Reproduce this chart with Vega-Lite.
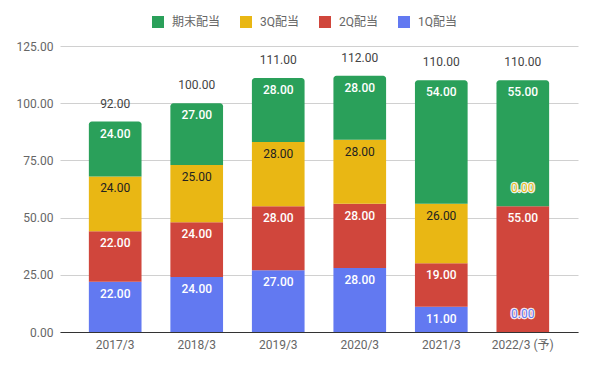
{
  "$schema": "https://vega.github.io/schema/vega-lite/v6.json",
  "width": 518,
  "height": 286,
  "autosize": {"type": "none"},
  "padding": {"left": 60, "top": 46, "right": 19, "bottom": 35},
  "background": "white",
  "config": {
    "font": "Roboto, 'Noto Sans CJK JP', sans-serif",
    "view": {"stroke": null}
  },
  "data": {
    "values": [
      {"year": "2017/3", "series": "1Q配当", "q": 1, "value": 22},
      {"year": "2017/3", "series": "2Q配当", "q": 2, "value": 22},
      {"year": "2017/3", "series": "3Q配当", "q": 3, "value": 24},
      {"year": "2017/3", "series": "期末配当", "q": 4, "value": 24},
      {"year": "2018/3", "series": "1Q配当", "q": 1, "value": 24},
      {"year": "2018/3", "series": "2Q配当", "q": 2, "value": 24},
      {"year": "2018/3", "series": "3Q配当", "q": 3, "value": 25},
      {"year": "2018/3", "series": "期末配当", "q": 4, "value": 27},
      {"year": "2019/3", "series": "1Q配当", "q": 1, "value": 27},
      {"year": "2019/3", "series": "2Q配当", "q": 2, "value": 28},
      {"year": "2019/3", "series": "3Q配当", "q": 3, "value": 28},
      {"year": "2019/3", "series": "期末配当", "q": 4, "value": 28},
      {"year": "2020/3", "series": "1Q配当", "q": 1, "value": 28},
      {"year": "2020/3", "series": "2Q配当", "q": 2, "value": 28},
      {"year": "2020/3", "series": "3Q配当", "q": 3, "value": 28},
      {"year": "2020/3", "series": "期末配当", "q": 4, "value": 28},
      {"year": "2021/3", "series": "1Q配当", "q": 1, "value": 11},
      {"year": "2021/3", "series": "2Q配当", "q": 2, "value": 19},
      {"year": "2021/3", "series": "3Q配当", "q": 3, "value": 26},
      {"year": "2021/3", "series": "期末配当", "q": 4, "value": 54},
      {"year": "2022/3 (予)", "series": "1Q配当", "q": 1, "value": 0},
      {"year": "2022/3 (予)", "series": "2Q配当", "q": 2, "value": 55},
      {"year": "2022/3 (予)", "series": "3Q配当", "q": 3, "value": 0},
      {"year": "2022/3 (予)", "series": "期末配当", "q": 4, "value": 55}
    ]
  },
  "transform": [
    {"stack": "value", "groupby": ["year"], "sort": [{"field": "q", "order": "ascending"}], "as": ["v0", "v1"]}
  ],
  "encoding": {
    "x": {
      "field": "year", "type": "nominal", "sort": null,
      "scale": {"paddingInner": 0.354, "paddingOuter": 0.354},
      "axis": {
        "title": null, "labelAngle": 0, "ticks": false, "labelPadding": 7,
        "labelFontSize": 12, "labelColor": "#666666",
        "domainColor": "#333333", "domainWidth": 1, "grid": false
      }
    }
  },
  "layer": [
    {
      "mark": {
        "type": "bar",
        "cornerRadiusTopLeft": {"expr": "datum.q === 4 ? 3 : 0"},
        "cornerRadiusTopRight": {"expr": "datum.q === 4 ? 3 : 0"}
      },
      "encoding": {
        "y": {
          "field": "v1", "type": "quantitative",
          "scale": {"domain": [0, 125], "nice": false},
          "axis": {
            "title": null, "values": [0, 25, 50, 75, 100, 125], "format": ".2f",
            "domain": false, "ticks": false, "labelPadding": 7,
            "labelFontSize": 12, "labelColor": "#666666",
            "gridColor": "#d0d0d0", "gridWidth": 1
          }
        },
        "y2": {"field": "v0"},
        "color": {
          "field": "series", "type": "nominal",
          "scale": {
            "domain": ["期末配当", "3Q配当", "2Q配当", "1Q配当"],
            "range": ["#2aa05a", "#e9b714", "#d0463c", "#6279f1"]
          },
          "legend": {
            "title": null, "orient": "none", "direction": "horizontal",
            "legendX": 92, "legendY": -30,
            "symbolType": "square", "symbolSize": 144, "symbolStrokeWidth": 0,
            "labelFontSize": 12, "labelColor": "#666666", "labelOffset": 8,
            "columnPadding": 19
          }
        }
      }
    },
    {
      "transform": [{"filter": "datum.value > 0 && datum.series !== '3Q配当'"}],
      "mark": {"type": "text", "dy": 12, "baseline": "middle", "fontSize": 12, "fontWeight": 500, "color": "#ffffff"},
      "encoding": {
        "y": {"field": "v1", "type": "quantitative"},
        "text": {"field": "value", "type": "quantitative", "format": ".2f"}
      }
    },
    {
      "transform": [{"filter": "datum.value > 0 && datum.series === '3Q配当'"}],
      "mark": {"type": "text", "dy": 12, "baseline": "middle", "fontSize": 12, "color": "#222222"},
      "encoding": {
        "y": {"field": "v1", "type": "quantitative"},
        "text": {"field": "value", "type": "quantitative", "format": ".2f"}
      }
    },
    {
      "transform": [{"filter": "datum.value == 0"}],
      "mark": {"type": "text", "dy": -18, "baseline": "middle", "fontSize": 12, "stroke": "#ffffff", "strokeWidth": 2.5, "strokeOpacity": 0.9},
      "encoding": {
        "y": {"field": "v1", "type": "quantitative"},
        "text": {"field": "value", "type": "quantitative", "format": ".2f"},
        "color": {"field": "series", "type": "nominal", "legend": null}
      }
    },
    {
      "transform": [{"filter": "datum.value == 0"}],
      "mark": {"type": "text", "dy": -18, "baseline": "middle", "fontSize": 12},
      "encoding": {
        "y": {"field": "v1", "type": "quantitative"},
        "text": {"field": "value", "type": "quantitative", "format": ".2f"},
        "color": {"field": "series", "type": "nominal", "legend": null}
      }
    },
    {
      "transform": [{"aggregate": [{"op": "sum", "field": "value", "as": "total"}], "groupby": ["year"]}],
      "mark": {"type": "text", "dy": -18, "baseline": "middle", "fontSize": 12, "color": "#444444"},
      "encoding": {
        "y": {"field": "total", "type": "quantitative"},
        "text": {"field": "total", "type": "quantitative", "format": ".2f"}
      }
    }
  ]
}
